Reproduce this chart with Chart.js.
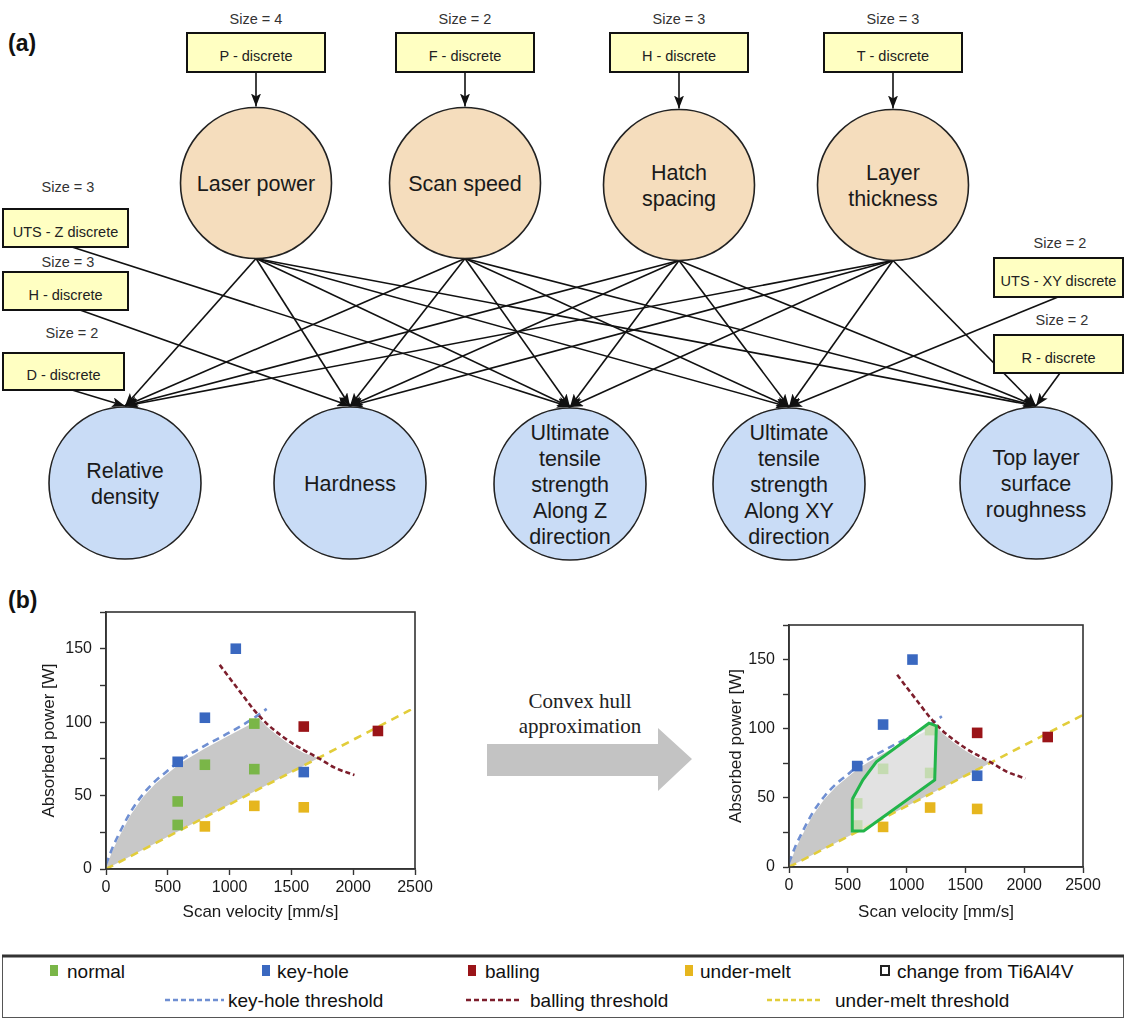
<!DOCTYPE html>
<html>
<head>
<meta charset="utf-8">
<script src="https://cdn.jsdelivr.net/npm/chart.js@4.4.1/dist/chart.umd.min.js"></script>
<style>
  html, body { margin: 0; padding: 0; background: #fff; }
  #page { position: relative; width: 1126px; height: 1020px; overflow: hidden; }
  #fig { position: absolute; left: 0; top: 0; }
  canvas { position: absolute; }
  #leftChart { left: 20px; top: 590px; }
  #rightChart { left: 710px; top: 600px; }
</style>
</head>
<body>
<div id="page">
  <svg id="fig" width="1126" height="1020" xmlns="http://www.w3.org/2000/svg">
    <defs>
      <marker id="head" viewBox="0 0 13 10" refX="13" refY="5" markerWidth="13" markerHeight="10"
              markerUnits="userSpaceOnUse" orient="auto">
        <path d="M0,0 L13,5 L0,10 L3,5 Z" fill="#111"/>
      </marker>
    </defs>
  </svg>
  <canvas id="leftChart" width="420" height="340"></canvas>
  <canvas id="rightChart" width="416" height="330"></canvas>
</div>

<script>
// ---------- measured operating points (scan velocity mm/s, absorbed power W) ----------
const normalPoints    = [[580, 46], [580, 30], [800, 71], [1200, 99], [1200, 68]];
const keyholePoints   = [[1050, 150], [800, 103], [580, 73], [1600, 66]];
const ballingPoints   = [[1600, 97], [2200, 94]];
const underMeltPoints = [[800, 29], [1200, 43], [1600, 42]];

// ---------- regime thresholds ----------
const keyholeThreshold = [[0, 3], [50, 14], [100, 23], [200, 39], [300, 51], [400, 60], [500, 67],
                          [600, 74], [800, 84], [1000, 93], [1200, 103], [1300, 109]];
const ballingThreshold = [[920, 139], [1000, 130], [1100, 119], [1200, 108], [1300, 99], [1400, 92],
                          [1500, 86], [1600, 81], [1730, 75], [1850, 69], [2010, 64]];
const underMeltThreshold = [[0, 0], [2500, 110]];

// ---------- printable process window and its convex-hull approximation ----------
const processWindow = [[0, 1], [50, 12], [100, 21], [200, 37], [300, 49], [400, 58], [500, 65],
                       [600, 72], [800, 82], [1000, 91], [1200, 100], [1235, 103], [1300, 97],
                       [1400, 90], [1500, 84], [1600, 79], [1720, 75.5], [0, 0]];
const convexHull = [[538, 49], [538, 26], [635, 26], [1239, 63], [1253, 102], [1190, 104],
                    [743, 76], [629, 63], [538, 49]];

// ---------- axis ticks ----------
const velocityTicks = [0, 500, 1000, 1500, 2000, 2500];
const powerTicks = [0, 50, 100, 150];

// ---------- Bayesian network ----------
const processNodes = [
  { lines: ['Laser power'], cx: 256, cy: 183 },
  { lines: ['Scan speed'], cx: 465, cy: 183 },
  { lines: ['Hatch', 'spacing'], cx: 679, cy: 185 },
  { lines: ['Layer', 'thickness'], cx: 893, cy: 185 }
];
const propertyNodes = [
  { lines: ['Relative', 'density'], cx: 125, cy: 483 },
  { lines: ['Hardness'], cx: 350, cy: 483 },
  { lines: ['Ultimate', 'tensile', 'strength', 'Along Z', 'direction'], cx: 570, cy: 484 },
  { lines: ['Ultimate', 'tensile', 'strength', 'Along XY', 'direction'], cx: 789, cy: 484 },
  { lines: ['Top layer', 'surface', 'roughness'], cx: 1036, cy: 483 }
];
const discreteBoxes = [
  { text: 'P - discrete', size: 'Size = 4', x: 187, y: 33, w: 138, h: 39, sx: 256, sy: 24, from: [256, 72], to: ['p', 0] },
  { text: 'F - discrete', size: 'Size = 2', x: 396, y: 33, w: 138, h: 39, sx: 465, sy: 24, from: [465, 72], to: ['p', 1] },
  { text: 'H - discrete', size: 'Size = 3', x: 610, y: 33, w: 138, h: 39, sx: 679, sy: 24, from: [679, 72], to: ['p', 2] },
  { text: 'T - discrete', size: 'Size = 3', x: 824, y: 33, w: 138, h: 39, sx: 893, sy: 24, from: [893, 72], to: ['p', 3] },
  { text: 'UTS - Z discrete', size: 'Size = 3', x: 3, y: 209, w: 125, h: 38, sx: 68, sy: 192, from: [72, 247], to: ['c', 2] },
  { text: 'H - discrete', size: 'Size = 3', x: 3, y: 272, w: 125, h: 38, sx: 68, sy: 267, from: [80, 310], to: ['c', 1] },
  { text: 'D - discrete', size: 'Size = 2', x: 3, y: 353, w: 121, h: 37, sx: 72, sy: 338, from: [72, 390], to: ['c', 0] },
  { text: 'UTS - XY discrete', size: 'Size = 2', x: 994, y: 258, w: 129, h: 39, sx: 1060, sy: 248, from: [1058, 297], to: ['c', 3] },
  { text: 'R - discrete', size: 'Size = 2', x: 994, y: 335, w: 129, h: 38, sx: 1062, sy: 325, from: [1060, 373], to: ['c', 4] }
];
const R_TOP = 75.5, R_BOTTOM = 76;

const NS = 'http://www.w3.org/2000/svg';
const svg = document.getElementById('fig');
const SANS = "'Liberation Sans', Arial, Helvetica, sans-serif";
const SERIF = "'Liberation Serif', 'Times New Roman', serif";
function el(tag, attrs, text) {
  const e = document.createElementNS(NS, tag);
  for (const k in attrs) e.setAttribute(k, attrs[k]);
  if (text != null) e.textContent = text;
  svg.appendChild(e);
  return e;
}

// edges: every process parameter feeds every property
processNodes.forEach(p => {
  propertyNodes.forEach(c => {
    el('line', { x1: p.cx, y1: p.cy + R_TOP, x2: c.cx, y2: c.cy - R_BOTTOM - 1,
                 stroke: '#111', 'stroke-width': 1.6, 'marker-end': 'url(#head)' });
  });
});
// edges from the discretisation boxes
discreteBoxes.forEach(b => {
  const isTop = b.to[0] === 'p';
  const t = isTop ? processNodes[b.to[1]] : propertyNodes[b.to[1]];
  const r = isTop ? R_TOP : R_BOTTOM;
  el('line', { x1: b.from[0], y1: b.from[1], x2: t.cx, y2: t.cy - r - 1,
               stroke: '#111', 'stroke-width': 1.6, 'marker-end': 'url(#head)' });
});

function drawNode(n, fill, r) {
  el('circle', { cx: n.cx, cy: n.cy, r: r, fill: fill, stroke: '#222', 'stroke-width': 1.6 });
  const lh = 26;
  const y0 = n.cy - (n.lines.length - 1) * lh / 2 + 7.5;
  n.lines.forEach((s, i) => {
    el('text', { x: n.cx, y: y0 + i * lh, 'text-anchor': 'middle', 'font-family': SANS,
                 'font-size': 21.5, fill: '#1a1a1a' }, s);
  });
}
processNodes.forEach(n => drawNode(n, '#f5ddbd', R_TOP));
propertyNodes.forEach(n => drawNode(n, '#c9dcf6', R_BOTTOM));

discreteBoxes.forEach(b => {
  el('rect', { x: b.x, y: b.y, width: b.w, height: b.h, fill: '#ffffc2', stroke: '#111', 'stroke-width': 2 });
  el('text', { x: b.x + b.w / 2, y: b.y + b.h * 0.6 + 5, 'text-anchor': 'middle', 'font-family': SANS,
               'font-size': 14.5, fill: '#222' }, b.text);
  el('text', { x: b.sx, y: b.sy, 'text-anchor': 'middle', 'font-family': SANS,
               'font-size': 14.5, fill: '#333' }, b.size);
});

// panel letters
el('text', { x: 8, y: 51, 'font-family': SANS, 'font-size': 23, 'font-weight': 'bold', fill: '#111' }, '(a)');
el('text', { x: 8, y: 608, 'font-family': SANS, 'font-size': 23, 'font-weight': 'bold', fill: '#111' }, '(b)');

// block arrow between the two panels
el('polygon', { points: '487,744 658,744 658,728 692,759 658,791 658,776 487,776', fill: '#c3c3c3' });
el('text', { x: 580, y: 708, 'text-anchor': 'middle', 'font-family': SERIF, 'font-size': 21, fill: '#222' }, 'Convex hull');
el('text', { x: 580, y: 733, 'text-anchor': 'middle', 'font-family': SERIF, 'font-size': 21, fill: '#222' }, 'approximation');

// ---------- shared legend ----------
const COLORS = {
  normal: '#7ab648', keyhole: '#3a68c0', balling: '#9a1418', underMelt: '#e6b61e',
  keyholeLine: '#6f8fd2', ballingLine: '#7d1e2c', underMeltLine: '#e2cd3a', hull: '#22b54a'
};
el('rect', { x: 2.5, y: 956.5, width: 1121, height: 61, fill: 'none', stroke: '#555', 'stroke-width': 1 });
el('line', { x1: 2, y1: 956, x2: 1124, y2: 956, stroke: '#333', 'stroke-width': 3 });
const legendMarks = [
  { label: 'normal', color: COLORS.normal, x: 50, tx: 67 },
  { label: 'key-hole', color: COLORS.keyhole, x: 262, tx: 277 },
  { label: 'balling', color: COLORS.balling, x: 468, tx: 485 },
  { label: 'under-melt', color: COLORS.underMelt, x: 685, tx: 700 },
  { label: 'change from Ti6Al4V', color: null, x: 880, tx: 897 }
];
legendMarks.forEach(m => {
  if (m.color) el('rect', { x: m.x, y: 965, width: 8, height: 11, fill: m.color });
  else el('rect', { x: m.x + 1, y: 966, width: 8, height: 9, fill: 'none', stroke: '#222', 'stroke-width': 2 });
  el('text', { x: m.tx, y: 978, 'font-family': SANS, 'font-size': 19, fill: '#111' }, m.label);
});
const legendLines = [
  { label: 'key-hole threshold', color: COLORS.keyholeLine, x1: 165, x2: 224, tx: 228 },
  { label: 'balling threshold', color: COLORS.ballingLine, x1: 466, x2: 521, tx: 530 },
  { label: 'under-melt threshold', color: COLORS.underMeltLine, x1: 767, x2: 822, tx: 835 }
];
legendLines.forEach(m => {
  el('line', { x1: m.x1, y1: 1000, x2: m.x2, y2: 1000, stroke: m.color, 'stroke-width': 2.5, 'stroke-dasharray': '5 3' });
  el('text', { x: m.tx, y: 1007, 'font-family': SANS, 'font-size': 19, fill: '#111' }, m.label);
});

// ---------- process maps ----------
Chart.defaults.font.family = SANS;
Chart.defaults.color = '#1a1a1a';
const toXY = arr => arr.map(([x, y]) => ({ x, y }));

const framePlugin = {
  id: 'frame',
  afterDatasetsDraw(chart) {
    const { ctx, chartArea: a } = chart;
    ctx.save();
    ctx.strokeStyle = '#333';
    ctx.lineWidth = 1.6;
    ctx.strokeRect(a.left, a.top, a.right - a.left, a.bottom - a.top);
    ctx.restore();
  }
};

function pointSet(label, pts, color, order) {
  return { label, data: toXY(pts), showLine: false, pointStyle: 'rect', pointRadius: 7.5,
           pointBackgroundColor: color, pointBorderWidth: 0, order };
}
function curve(label, pts, color, dash, order) {
  return { label, data: toXY(pts), showLine: true, borderColor: color, borderWidth: 2.6, borderDash: dash,
           pointRadius: 0, fill: false, cubicInterpolationMode: 'monotone', order };
}

function makeMap(id, opts) {
  const datasets = [
    { label: 'process window', data: toXY(processWindow), showLine: true, fill: 'shape',
      backgroundColor: '#c8c8c8', borderWidth: 0, pointRadius: 0, tension: 0, order: 20 },
    curve('under-melt threshold', underMeltThreshold, COLORS.underMeltLine, [8, 6], 10),
    curve('key-hole threshold', keyholeThreshold, COLORS.keyholeLine, [7, 5], 9),
    curve('balling threshold', ballingThreshold, COLORS.ballingLine, [5, 3], 8),
    pointSet('normal', normalPoints, COLORS.normal, 6),
    pointSet('key-hole', keyholePoints, COLORS.keyhole, 5),
    pointSet('balling', ballingPoints, COLORS.balling, 5),
    pointSet('under-melt', underMeltPoints, COLORS.underMelt, 5)
  ];
  if (opts.hull) {
    datasets.push({ label: 'convex hull', data: toXY(convexHull), showLine: true, fill: 'shape',
      backgroundColor: 'rgba(242,242,242,0.62)', borderColor: COLORS.hull, borderWidth: 3,
      pointRadius: 0, tension: 0, order: 1 });
  }
  return new Chart(document.getElementById(id), {
    type: 'line',
    data: { datasets },
    options: {
      responsive: false,
      animation: false,
      layout: { padding: { top: opts.padTop, right: opts.padRight, left: 0, bottom: 0 } },
      plugins: { legend: { display: false }, tooltip: { enabled: false } },
      scales: {
        x: {
          type: 'linear', min: velocityTicks[0], max: velocityTicks[velocityTicks.length - 1],
          afterBuildTicks: s => { s.ticks = velocityTicks.map(v => ({ value: v })); },
          afterFit: s => { s.height = opts.xHeight; },
          grid: { display: true, drawOnChartArea: false, drawTicks: true, tickLength: 6, tickColor: '#333', tickWidth: 1.4 },
          border: { display: true, color: '#333', width: 1.6 },
          ticks: { font: { size: 16 }, color: '#1a1a1a', padding: 3, maxRotation: 0, autoSkip: false,
                   callback: v => String(v) },
          title: { display: true, text: 'Scan velocity [mm/s]', font: { size: 17 }, color: '#1a1a1a',
                   padding: { top: 0, bottom: 7 } }
        },
        y: {
          type: 'linear', min: 0, max: 175,
          ticks: { stepSize: 25, autoSkip: false, font: { size: 16 }, color: '#1a1a1a', padding: 8,
                   callback: v => (powerTicks.includes(v) ? String(v) : '') },
          afterFit: s => { s.width = opts.yWidth; },
          grid: { display: true, drawOnChartArea: false, drawTicks: true, tickLength: 6, tickColor: '#333', tickWidth: 1.4 },
          border: { display: true, color: '#333', width: 1.6 },
          title: { display: true, text: 'Absorbed power [W]', font: { size: 17 }, color: '#1a1a1a',
                   padding: { top: opts.yTitlePad, bottom: 0 } }
        }
      }
    },
    plugins: [framePlugin]
  });
}

makeMap('leftChart', { hull: false, padTop: 22, padRight: 25, xHeight: 61, yWidth: 86, yTitlePad: 19 });
makeMap('rightChart', { hull: true, padTop: 25, padRight: 43, xHeight: 63, yWidth: 79, yTitlePad: 16 });
</script>
</body>
</html>
